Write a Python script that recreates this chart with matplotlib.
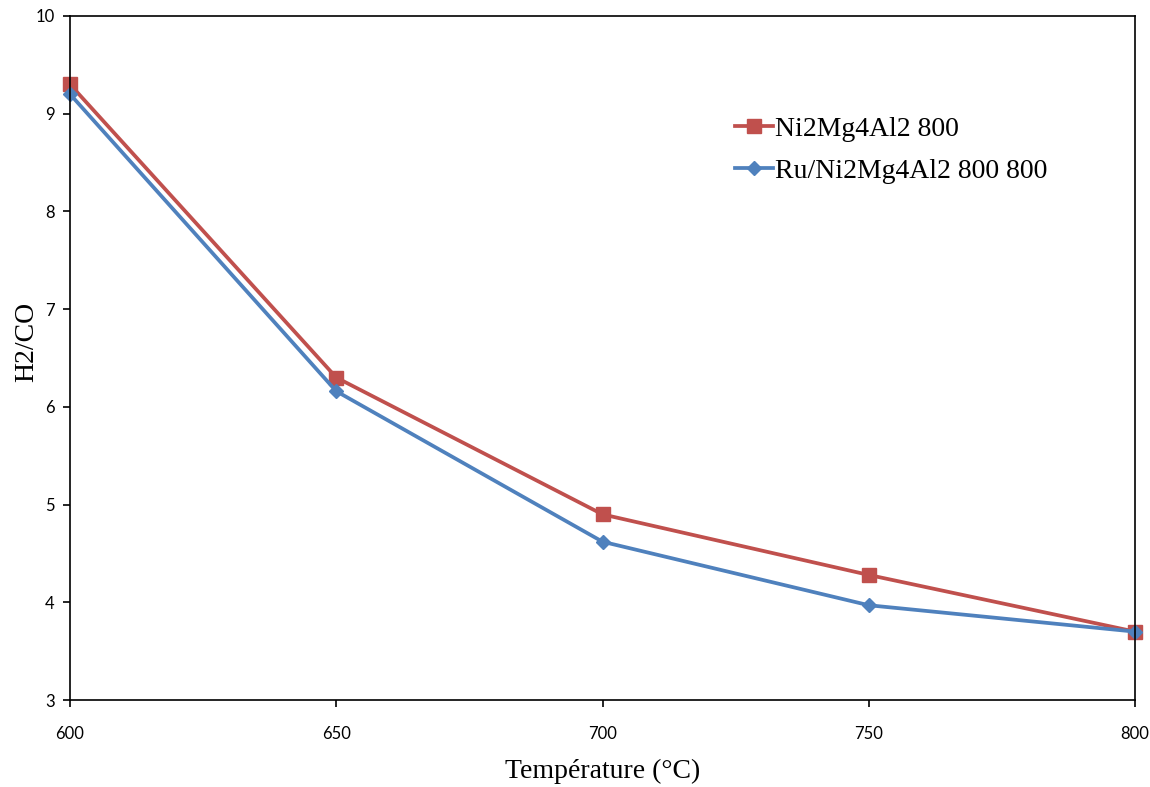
import matplotlib
matplotlib.use("Agg")
import matplotlib.pyplot as plt


temperature = [600, 650, 700, 750, 800]
ni2mg4al2 = [9.3, 6.3, 4.9, 4.28, 3.7]
ru_ni2mg4al2 = [9.2, 6.16, 4.62, 3.97, 3.7]

label_ni = "Ni2Mg4Al2 800"
label_ru = "Ru/Ni2Mg4Al2 800 800"


fig = plt.figure(figsize=(11.5, 7.87), dpi=100)
ax = fig.add_axes([0.0609, 0.1105, 0.9261, 0.8692])

ax.plot(
    temperature,
    ni2mg4al2,
    color="#C0504D",
    linewidth=2.7,
    marker="s",
    markersize=9.5,
    label=label_ni,
    clip_on=False
)

ax.plot(
    temperature,
    ru_ni2mg4al2,
    color="#4F81BD",
    linewidth=2.7,
    marker="D",
    markersize=7.5,
    label=label_ru,
    clip_on=False
)

ax.set_xlim(600, 800)
ax.set_ylim(3, 10)
ax.set_xticks(temperature)
ax.set_yticks(range(3, 11))

for spine in ax.spines.values():
    spine.set_linewidth(1.2)

ax.tick_params(direction="out", length=5, width=1.2, labelsize=12, pad=14)
ax.tick_params(axis="y", pad=6)
for lbl in ax.get_xticklabels() + ax.get_yticklabels():
    lbl.set_family("Lato")

ax.set_xlabel("Température (°C)", family="Liberation Serif", fontsize=20, labelpad=12)
ax.set_ylabel("H2/CO", family="Liberation Serif", fontsize=20)
ax.yaxis.set_label_coords(-0.029, 0.523)

ax.legend(
    loc="center left",
    bbox_to_anchor=(0.624, 0.804),
    frameon=False,
    borderpad=0,
    borderaxespad=0,
    prop={"family": "Liberation Serif", "size": 20},
    handlelength=1.4,
    handletextpad=0.05,
    labelspacing=0.58
)

fig.savefig("out.png")
plt.close(fig)
